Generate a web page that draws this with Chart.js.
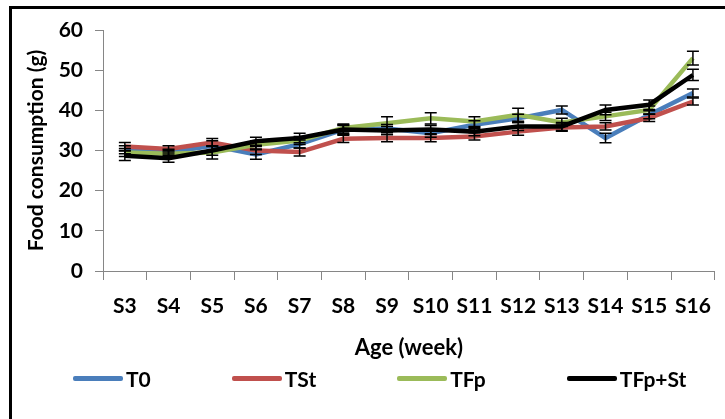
<!DOCTYPE html>
<html>
<head>
<meta charset="utf-8">
<script src="https://cdn.jsdelivr.net/npm/chart.js@4/dist/chart.umd.min.js"></script>
<style>
  html, body { margin: 0; padding: 0; background: #fff; overflow: hidden; }
  body { width: 725px; height: 419px; position: relative; }
  #frame { position: absolute; left: 9px; top: 6px; width: 800px; height: 500px; border: 3px solid #000; box-sizing: border-box; }
  #wrap { position: absolute; left: 0; top: 0; width: 725px; height: 419px; }
  #legend { position: absolute; left: 73px; top: 366px; display: flex; gap: 81px; font: bold 21px Lato, sans-serif; color: #000; }
  .item { display: flex; align-items: center; }
  .swatch { width: 50px; height: 5px; border-radius: 2px; margin-right: 3px; }
</style>
</head>
<body>
<div id="frame"></div>
<div id="wrap"><canvas id="c" width="725" height="419"></canvas></div>
<div id="legend"></div>
<script>
const categories = ["S3","S4","S5","S6","S7","S8","S9","S10","S11","S12","S13","S14","S15","S16"];
const seriesNames = ["T0","TSt","TFp","TFp+St"];
const T0    = [30.2, 29.5, 31.2, 29.0, 31.6, 35.2, 35.5, 34.3, 36.4, 38.0, 40.1, 33.1, 38.9, 44.3];
const TSt   = [31.0, 30.4, 32.0, 30.0, 29.6, 32.9, 33.1, 33.1, 33.5, 34.7, 35.7, 36.0, 38.1, 42.2];
const TFp   = [29.5, 29.2, 29.5, 31.4, 32.5, 35.6, 36.8, 38.0, 37.2, 38.9, 37.0, 38.5, 40.1, 53.0];
const TFpSt = [28.7, 28.1, 30.0, 32.3, 33.1, 35.2, 35.0, 35.2, 34.7, 36.0, 36.0, 40.1, 41.4, 48.8];
const errT0    = [1.0, 0.8, 1.2, 1.2, 1.0, 1.0, 1.0, 1.0, 1.0, 1.0, 1.0, 1.2, 1.0, 1.0];
const errTSt   = [1.0, 0.8, 1.0, 1.0, 1.0, 0.9, 0.9, 0.9, 0.9, 0.9, 0.9, 0.9, 0.9, 0.9];
const errTFp   = [1.0, 0.8, 1.6, 1.0, 1.0, 1.0, 1.6, 1.4, 1.2, 1.6, 1.0, 1.0, 1.0, 1.7];
const errTFpSt = [1.2, 1.0, 1.2, 1.0, 1.2, 1.2, 1.0, 1.0, 1.0, 1.0, 1.0, 1.2, 1.2, 1.4];
const yTicks = [0, 10, 20, 30, 40, 50, 60];

const colors = ["#4A7EBB", "#C0504D", "#9BBB59", "#000000"];
const values = [T0, TSt, TFp, TFpSt];
const errors = [errT0, errTSt, errTFp, errTFpSt];

const FONT = "Lato, 'Open Sans', sans-serif";

const errorBars = {
  id: 'errorBars',
  afterDatasetsDraw(chart) {
    const ctx = chart.ctx;
    const xs = chart.scales.x, ys = chart.scales.y;
    ctx.save();
    ctx.strokeStyle = '#000';
    ctx.lineWidth = 1.5;
    chart.data.datasets.forEach((ds, di) => {
      const err = errors[di];
      ds.data.forEach((v, i) => {
        const x = xs.getPixelForValue(i);
        const yt = ys.getPixelForValue(v + err[i]);
        const yb = ys.getPixelForValue(v - err[i]);
        ctx.beginPath();
        ctx.moveTo(x, yt); ctx.lineTo(x, yb);
        ctx.moveTo(x - 6, yt); ctx.lineTo(x + 6, yt);
        ctx.moveTo(x - 6, yb); ctx.lineTo(x + 6, yb);
        ctx.stroke();
      });
    });
    ctx.restore();
  }
};

const datasets = seriesNames.map((n, i) => ({
  label: n,
  data: values[i],
  borderColor: colors[i],
  backgroundColor: colors[i],
  borderWidth: 4.5,
  pointRadius: 0,
  tension: 0,
  fill: false,
  order: 3 - i
}));

new Chart(document.getElementById('c'), {
  type: 'line',
  data: { labels: categories, datasets },
  options: {
    responsive: false,
    animation: false,
    layout: { padding: { left: 24, right: 4, top: 30, bottom: 53 } },
    plugins: { legend: { display: false }, tooltip: { enabled: false } },
    scales: {
      x: {
        offset: true,
        grid: { offset: true, drawOnChartArea: false, drawTicks: true, tickLength: 9, color: '#868686' },
        border: { color: '#868686', width: 1 },
        ticks: { color: '#000', font: { family: FONT, size: 21, weight: 'bold' }, padding: 14, maxRotation: 0, autoSkip: false },
        title: { display: true, text: 'Age (week)', color: '#000', font: { family: FONT, size: 22, weight: 'bold' }, padding: { top: 0, bottom: 5 } },
        afterFit(s) { s.height = 95; }
      },
      y: {
        min: 0, max: 60,
        afterBuildTicks(s) { s.ticks = yTicks.map(v => ({ value: v })); },
        grid: { drawOnChartArea: false, drawTicks: true, tickLength: 8, color: '#868686' },
        border: { color: '#868686', width: 1 },
        ticks: { color: '#000', font: { family: FONT, size: 21, weight: 'bold' }, padding: 12 },
        title: { display: true, text: 'Food consumption (g)', color: '#000', font: { family: FONT, size: 21, weight: 'bold' }, padding: 0 },
        afterFit(s) { s.width = 79; }
      }
    }
  },
  plugins: [errorBars]
});

const legend = document.getElementById('legend');
seriesNames.forEach((n, i) => {
  const it = document.createElement('div');
  it.className = 'item';
  const sw = document.createElement('span');
  sw.className = 'swatch';
  sw.style.background = colors[i];
  const tx = document.createElement('span');
  tx.textContent = n;
  it.appendChild(sw); it.appendChild(tx);
  legend.appendChild(it);
});
</script>
</body>
</html>
